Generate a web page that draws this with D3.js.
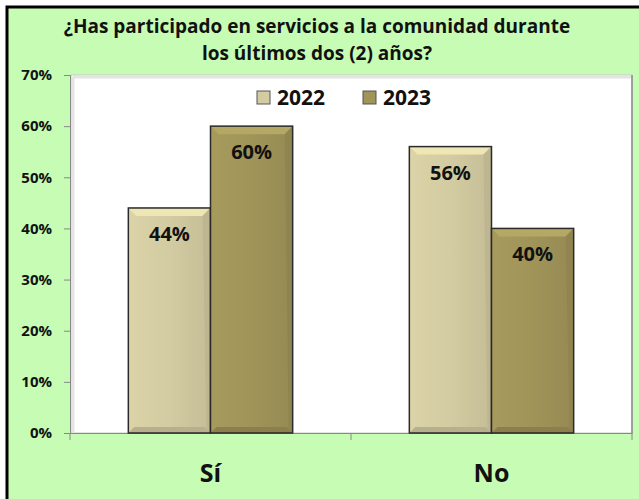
<!DOCTYPE html>
<html>
<head>
<meta charset="utf-8">
<script src="https://cdn.jsdelivr.net/npm/d3@7"></script>
<style>
  body { margin: 0; background: #fff; }
  text { font-family: "Open Sans", "DejaVu Sans", sans-serif; font-weight: bold; fill: #111; }
</style>
</head>
<body>
<div id="chart"></div>
<script>
// chart values
var categories = ["Sí", "No"];
var years = ["2022", "2023"];
var values2022 = [0.44, 0.56];
var values2023 = [0.60, 0.40];
var yTicks = [0, 0.1, 0.2, 0.3, 0.4, 0.5, 0.6, 0.7];
var titleLines = ["¿Has participado en servicios a la comunidad durante", "los últimos dos (2) años?"];

var width = 639, height = 499;
var margin = {left: 70, right: 7, top: 75, bottom: 66};
var colors = {"2022": "#d3cba1", "2023": "#a09459"};

var svg = d3.select("#chart").append("svg")
    .attr("width", width)
    .attr("height", height);

var defs = svg.append("defs");
years.forEach(function(yr) {
    var c = d3.color(colors[yr]);
    var g = defs.append("linearGradient").attr("id", "grad" + yr)
        .attr("x1", 0).attr("x2", 1).attr("y1", 0).attr("y2", 0);
    g.append("stop").attr("offset", "0%").attr("stop-color", c.brighter(0.12));
    g.append("stop").attr("offset", "50%").attr("stop-color", c);
    g.append("stop").attr("offset", "100%").attr("stop-color", c.darker(0.2));
});

// green chart background with thick frame
svg.append("rect")
    .attr("x", 7).attr("y", 7)
    .attr("width", width + 10).attr("height", height + 10)
    .attr("fill", "#c6fcb3")
    .attr("stroke", "#000")
    .attr("stroke-width", 3);

var x = d3.scaleBand()
    .domain(categories)
    .range([margin.left, width - margin.right]);

var x1 = d3.scaleBand()
    .domain(years)
    .range([0, x.bandwidth()])
    .paddingOuter(0.71);

var y = d3.scaleLinear()
    .domain([0, 0.7])
    .range([height - margin.bottom, margin.top]);

// plot area (white with soft edges)
svg.append("rect")
    .attr("x", margin.left + 1).attr("y", y(0.7))
    .attr("width", width - margin.right - margin.left - 1)
    .attr("height", y(0) - y(0.7))
    .attr("fill", "#fff")
    .attr("stroke", "#c8c8c8")
    .attr("stroke-width", 1);
svg.append("line")
    .attr("x1", margin.left + 3).attr("x2", width - margin.right)
    .attr("y1", y(0.7) + 2).attr("y2", y(0.7) + 2)
    .attr("stroke", "#e4e4e4").attr("stroke-width", 3);
svg.append("line")
    .attr("x1", margin.left + 3).attr("x2", margin.left + 3)
    .attr("y1", y(0.7) + 2).attr("y2", y(0))
    .attr("stroke", "#e4e4e4").attr("stroke-width", 3);
svg.append("line")
    .attr("x1", width - margin.right).attr("x2", width - margin.right)
    .attr("y1", y(0.7)).attr("y2", y(0))
    .attr("stroke", "#8a8a8a").attr("stroke-width", 1.5);

// title
svg.append("g").selectAll("text")
    .data(titleLines)
  .enter().append("text")
    .attr("x", 317)
    .attr("y", function(d, i) { return 33 + i * 27; })
    .attr("text-anchor", "middle")
    .style("font-size", "19px")
    .text(function(d) { return d; });

// y axis
var yAxis = svg.append("g")
    .attr("transform", "translate(" + margin.left + ",0)")
    .call(d3.axisLeft(y).tickValues(yTicks).tickFormat(d3.format(".0%")).tickSize(6).tickPadding(12));
yAxis.select(".domain").attr("stroke", "#888");
yAxis.selectAll(".tick line").attr("stroke", "#888");
yAxis.selectAll("text")
    .style("font-size", "15px")
    .attr("fill", "#111");

// x axis
var xAxis = svg.append("g")
    .attr("transform", "translate(0," + y(0) + ")")
    .call(d3.axisBottom(x).tickSize(0).tickFormat(""));
xAxis.select(".domain").attr("stroke", "#888");
svg.append("g").selectAll("line")
    .data(categories.concat([null]))
  .enter().append("line")
    .attr("x1", function(d, i) { return margin.left + i * x.step(); })
    .attr("x2", function(d, i) { return margin.left + i * x.step(); })
    .attr("y1", y(0)).attr("y2", y(0) + 7)
    .attr("stroke", "#888");

svg.append("g").selectAll("text")
    .data(categories)
  .enter().append("text")
    .attr("x", function(d) { return x(d) + x.bandwidth() / 2; })
    .attr("y", y(0) + 49)
    .attr("text-anchor", "middle")
    .style("font-size", "25px")
    .text(function(d) { return d; });

// bars
var rows = [];
categories.forEach(function(cat, i) {
    rows.push({cat: cat, year: "2022", value: values2022[i]});
    rows.push({cat: cat, year: "2023", value: values2023[i]});
});

var bars = svg.append("g").selectAll("g")
    .data(rows)
  .enter().append("g")
    .attr("transform", function(d) { return "translate(" + (x(d.cat) + x1(d.year)) + "," + y(d.value) + ")"; });

var bw = x1.bandwidth(), bev = 8;

bars.append("rect")
    .attr("width", bw)
    .attr("height", function(d) { return y(0) - y(d.value); })
    .attr("fill", function(d) { return "url(#grad" + d.year + ")"; });

// bevel on top and sides
bars.append("path")
    .attr("d", "M0,0 L" + bw + ",0 L" + (bw - bev) + "," + bev + " L" + bev + "," + bev + " Z")
    .attr("fill", function(d) { return d3.color(colors[d.year]).brighter(0.35); });
bars.append("path")
    .attr("d", function(d) {
        var h = y(0) - y(d.value);
        return "M" + bw + ",0 L" + bw + "," + h + " L" + (bw - 4) + "," + (h - 4) + " L" + (bw - bev) + "," + bev + " Z";
    })
    .attr("fill", function(d) { return d3.color(colors[d.year]).darker(0.3); });
bars.append("path")
    .attr("d", function(d) {
        var h = y(0) - y(d.value);
        return "M0," + h + " L" + bw + "," + h + " L" + (bw - 6) + "," + (h - 6) + " L6," + (h - 6) + " Z";
    })
    .attr("fill", function(d) { return d3.color(colors[d.year]).darker(0.4); });

bars.append("rect")
    .attr("width", bw)
    .attr("height", function(d) { return y(0) - y(d.value); })
    .attr("fill", "none")
    .attr("stroke", "#2a2a2a")
    .attr("stroke-width", 1.5);

bars.append("text")
    .attr("x", bw / 2)
    .attr("y", 33)
    .attr("text-anchor", "middle")
    .style("font-size", "20px")
    .text(function(d) { return d3.format(".0%")(d.value); });

// legend
var legend = svg.append("g").selectAll("g")
    .data(years)
  .enter().append("g")
    .attr("transform", function(d, i) { return "translate(" + (257 + i * 106) + ",91)"; });
legend.append("rect")
    .attr("width", 13).attr("height", 13)
    .attr("fill", function(d) { return colors[d]; })
    .attr("stroke", "#555");
legend.append("text")
    .attr("x", 20)
    .attr("y", 14)
    .style("font-size", "21px")
    .text(function(d) { return d; });
</script>
</body>
</html>
